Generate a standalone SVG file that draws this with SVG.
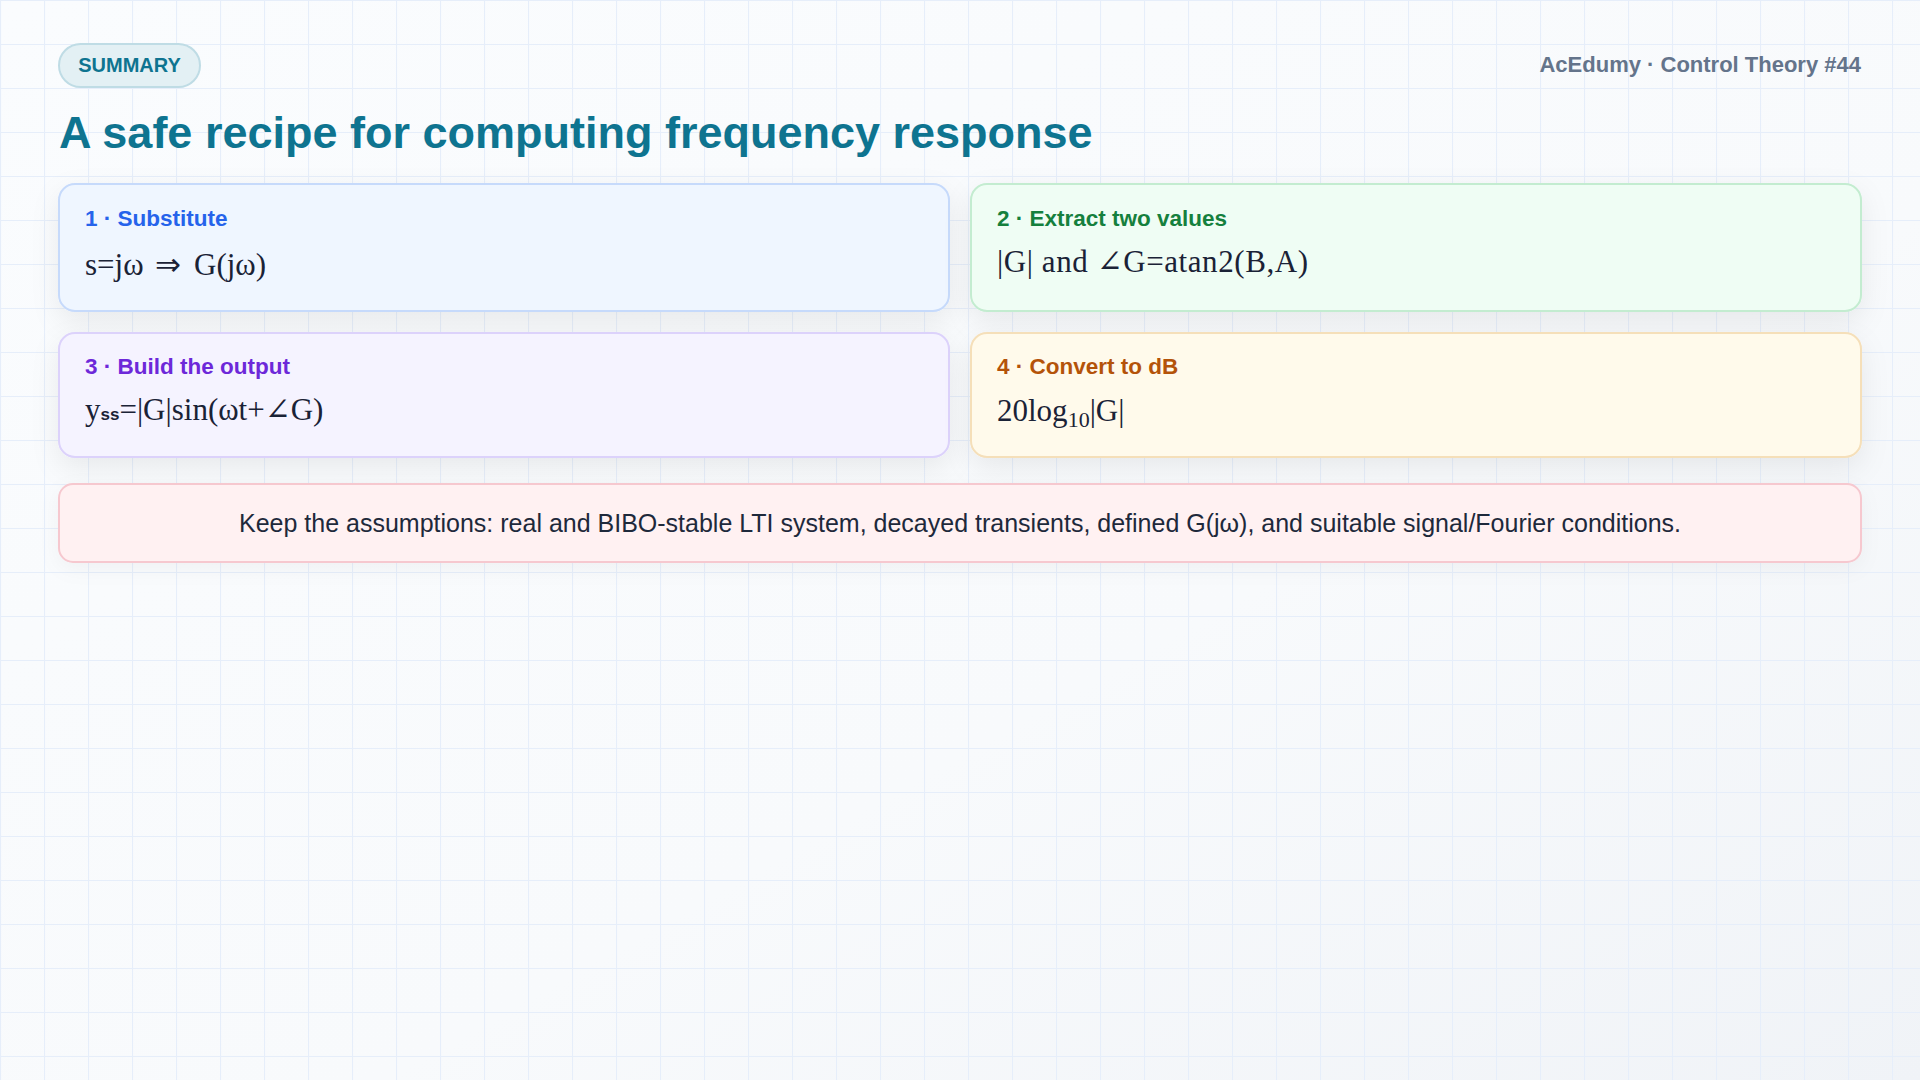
<svg xmlns="http://www.w3.org/2000/svg" width="1920" height="1080" viewBox="0 0 1920 1080">
  <defs>
    <linearGradient id="bg" x1="0" y1="0" x2="1" y2="1">
      <stop offset="0" stop-color="#fafcfe"/>
      <stop offset="0.6" stop-color="#f8fafc"/>
      <stop offset="1" stop-color="#f0f3f7"/>
    </linearGradient>
    <pattern id="grid" x="0" y="0" width="44" height="44" patternUnits="userSpaceOnUse">
      <path d="M0.5 0 V44 M0 0.5 H44" fill="none" stroke="#e6eefa" stroke-width="1.2"/>
    </pattern>
    <filter id="shadow" x="-10%" y="-30%" width="120%" height="170%">
      <feDropShadow dx="0" dy="10" stdDeviation="14" flood-color="#0f172a" flood-opacity="0.07"/>
    </filter>
    <filter id="shadowLight" x="-10%" y="-30%" width="120%" height="170%">
      <feDropShadow dx="0" dy="6" stdDeviation="10" flood-color="#0f172a" flood-opacity="0.04"/>
    </filter>
  </defs>
  <style>
    .sans { font-family: "Liberation Sans", Arial, "DejaVu Sans", sans-serif; }
    .label { font-family: "Liberation Sans", Arial, sans-serif; font-size: 22.5px; font-weight: bold; }
    .formula { font-family: "Liberation Serif", "DejaVu Serif", serif; font-size: 31px; fill: #1a2236; }
    .card { stroke-width: 2; }
  </style>

  <rect x="0" y="0" width="1920" height="1080" fill="url(#bg)"/>
  <rect x="0" y="0" width="1920" height="1080" fill="url(#grid)"/>

  <g id="header">
    <rect x="59" y="44" width="141" height="43" rx="21.5" fill="#e3f0f4" stroke="#bfdce5" stroke-width="2"/>
    <text x="129.5" y="72" text-anchor="middle" class="sans" font-size="20" font-weight="bold" fill="#0e7490">SUMMARY</text>
    <text x="1861" y="72" text-anchor="end" class="sans" font-size="22" font-weight="bold" fill="#64748b">AcEdumy · Control Theory #44</text>
    <text x="59" y="148" class="sans" font-size="45" font-weight="bold" fill="#0e7490">A safe recipe for computing frequency response</text>
  </g>

  <g id="step1">
    <rect class="card" x="59" y="184" width="890" height="127" rx="16" fill="#eff6ff" stroke="#c6dafb" filter="url(#shadow)"/>
    <text x="85" y="226" class="label" fill="#2563eb">1 · Substitute</text>
    <text x="85" y="275" class="formula">s=jω<tspan x="155" font-family="DejaVu Sans, sans-serif" font-size="31">⇒</tspan><tspan x="194">G(jω)</tspan></text>
  </g>

  <g id="step2">
    <rect class="card" x="971" y="184" width="890" height="127" rx="16" fill="#effdf4" stroke="#c3ecd0" filter="url(#shadow)"/>
    <text x="997" y="226" class="label" fill="#15803d">2 · Extract two values</text>
    <text x="997" y="272" class="formula" textLength="311" lengthAdjust="spacing">|G| and ∠G=atan2(B,A)</text>
  </g>

  <g id="step3">
    <rect class="card" x="59" y="333" width="890" height="124" rx="16" fill="#f5f3ff" stroke="#dcd2fb" filter="url(#shadow)"/>
    <text x="85" y="374" class="label" fill="#6d28d9">3 · Build the output</text>
    <text x="85" y="420" class="formula">y<tspan class="sans" font-size="17" font-weight="bold">ss</tspan>=|G|sin(ωt+∠G)</text>
  </g>

  <g id="step4">
    <rect class="card" x="971" y="333" width="890" height="124" rx="16" fill="#fffaeb" stroke="#f5dfb9" filter="url(#shadow)"/>
    <text x="997" y="374" class="label" fill="#b45309">4 · Convert to dB</text>
    <text x="997" y="421" class="formula">20log<tspan font-size="22" dy="6">10</tspan><tspan dy="-6">|G|</tspan></text>
  </g>

  <g id="assumptions">
    <rect x="59" y="484" width="1802" height="78" rx="14" fill="#fff1f2" stroke="#f6c8cf" stroke-width="2" filter="url(#shadowLight)"/>
    <text x="960" y="532" text-anchor="middle" class="sans" font-size="25" fill="#1e293b">Keep the assumptions: real and BIBO-stable LTI system, decayed transients, defined G(jω), and suitable signal/Fourier conditions.</text>
  </g>

  <g id="connectors"></g>
</svg>
